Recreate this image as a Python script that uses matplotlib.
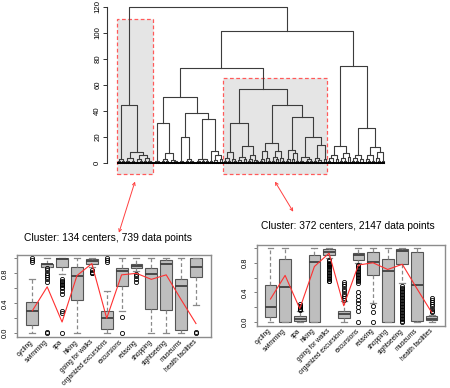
import matplotlib.pyplot as plt
from matplotlib.patches import Rectangle, ConnectionPatch

plt.rcParams['font.family'] = ['Liberation Sans', 'DejaVu Sans']

# ---------------- dendrogram: node = [height, left, right], 0 = leaf ----------------
A1 = [3, [1.5, 0, 0], [2, 0, 0]]
A2a = [4, [2, 0, [1, 0, 0]], [1.5, 0, 0]]
A2bl = [3, [1, 0, 0], [2, 0, 0]]
A2br = [4, [2, 0, 0], [1.5, 0, [1, 0, 0]]]
A = [44.4, A1, [8.5, A2a, [6.4, A2bl, A2br]]]

E1a = [2, [1, 0, 0], [1.2, 0, 0]]
E1b = [7.7, [3, [1.5, 0, 0], [2, 0, 0]], [2.5, [1.2, 0, 0], [2, 0, [1, 0, 0]]]]
E2al = [2, 0, [1, 0, 0]]
E2ar = [3, [1.5, 0, 0], [2, 0, [1, 0, 0]]]
E2bl = [3.5, [2, [1, 0, 0], 0], [3, [1.5, 0, 0], [2, 0, 0]]]
E2brl = [2, 0, 0]
E2brr = [6, [2.5, 0, [1, 0, 0]], [3, 0, 0]]
E = [50.5, [31, E1a, E1b], [38.8, [20.4, E2al, E2ar], [33.7, E2bl, [9.7, E2brl, E2brr]]]]

F1l = [9, [4, [2, 0, 0], [1.5, 0, 0]], [3, 0, [2, 0, 0]]]
F1r = [13.5, [5, [2.5, 0, [1, 0, 0]], [3, 0, 0]], [6.5, [3, [1.5, 0, 0], 0], [2.5, 0, [2, 0, 0]]]]
F2al = [9.4, [3, [1.5, 0, 0], 0], [4, 0, [2, 0, 0]]]
F2ar = [9.6, [5, [2, 0, 0], [3, 0, 0]], [4, 0, [2, 0, 0]]]
F2bl = [10.5, [3, [1.5, 0, 0], 0], [8, [3, 0, 0], [2, 0, 0]]]
F2brl = [5, [2, 0, [1, 0, 0]], [3, [1.5, 0, 0], [2, 0, 0]]]
F2brr = [13.8, [4, [2, 0, 0], [2.5, 0, [1, 0, 0]]], [3, 0, 0]]
F = [57, [30.6, F1l, F1r], [44.4, [15.8, F2al, F2ar], [35.7, F2bl, [20, F2brl, F2brr]]]]

Dl = [13.5, [6, [4, [2, 0, 0], [1, 0, 0]], [3, 0, 0]], [7.5, [4, [2, 0, 0], [1.5, 0, 0]], [5, 0, 0]]]
Drl = [6, [4, [2, 0, 0], [1.5, 0, 0]], [3, 0, [1, 0, 0]]]
Drr = [12.8, [6, [3, 0, [1.5, 0, 0]], [2, 0, 0]], [8.5, [4, 0, [2, 0, 0]], [2, 0, 0]]]
D = [74.8, Dl, [26.8, Drl, Drr]]

tree = [120, A, [101, [72.8, E, F], D]]
highlight = [A, F]
highlight_top = [110.3, 65.1]
rect_bottom = -8.2

# ---------------- boxplot summaries ----------------
labels = ['cycling', 'swimming', 'spa', 'hiking', 'going for walks', 'organized excursions',
          'excursions', 'relaxing', 'shopping', 'sightseeing', 'museums', 'health facilities']

L_title = 'Cluster: 134 centers, 739 data points'
L_lo = [0.00, 0.88, 0.79, 0.00, 0.88, 0.00, 0.30, 0.83, 0.00, 0.00, 0.00, 0.38]
L_q1 = [0.11, 0.885, 0.885, 0.445, 0.92, 0.06, 0.63, 0.87, 0.33, 0.315, 0.045, 0.75]
L_med = [0.30, 0.92, 0.99, 0.77, 0.96, 0.20, 0.83, 0.90, 0.79, 0.92, 0.63, 0.885]
L_q3 = [0.42, 0.93, 1.00, 0.885, 0.99, 0.30, 0.876, 0.92, 0.876, 0.975, 0.72, 1.00]
L_hi = [0.73, 1.00, 1.00, 1.00, 1.00, 0.57, 1.00, 1.00, 1.00, 1.00, 1.00, 1.00]
L_fliers = [[1.0, 0.98, 0.95],
            [0.87, 0.84, 0.81, 0.78, 0.75, 0.72, 0.69, 0.02, 0.0],
            [0.72, 0.70, 0.68, 0.66, 0.64, 0.62, 0.60, 0.57, 0.53, 0.30, 0.27, 0.0],
            [],
            [0.84, 0.82, 0.81, 0.80],
            [1.0, 0.98, 0.95],
            [0.22, 0.0],
            [0.79, 0.76, 0.72, 0.68],
            [], [], [],
            [0.02, 0.0]]
L_mean = [0.30, 0.62, 0.15, 0.77, 0.93, 0.20, 0.78, 0.80, 0.72, 0.78, 0.45, 0.13]

R_title = 'Cluster: 372 centers, 2147 data points'
R_lo = [0.00, 0.00, 0.00, 0.00, 0.86, 0.00, 0.80, 0.26, 0.00, 0.53, 0.00, 0.00]
R_q1 = [0.063, 0.00, 0.02, 0.00, 0.91, 0.055, 0.84, 0.64, 0.00, 0.78, 0.018, 0.022]
R_med = [0.20, 0.47, 0.045, 0.81, 0.94, 0.11, 0.90, 0.81, 0.69, 0.96, 0.50, 0.045]
R_q3 = [0.506, 0.845, 0.086, 0.91, 0.98, 0.15, 0.93, 0.94, 0.855, 0.99, 0.944, 0.076]
R_hi = [1.00, 1.00, 0.15, 1.00, 1.00, 0.28, 1.00, 1.00, 1.00, 1.00, 1.00, 0.10]
R_fliers = [[], [],
            [0.24, 0.22, 0.21, 0.20, 0.18, 0.17, 0.16],
            [],
            [0.84, 0.82, 0.80, 0.79, 0.78, 0.77, 0.75, 0.74, 0.72, 0.70, 0.68, 0.66,
             0.64, 0.62, 0.60, 0.58, 0.56, 0.55],
            [0.54, 0.51, 0.48, 0.45, 0.42, 0.38, 0.35, 0.32, 0.30],
            [0.77, 0.75, 0.73, 0.71, 0.69, 0.67, 0.65, 0.63, 0.61, 0.59, 0.57, 0.55,
             0.53, 0.40, 0.35, 0.30, 0.25, 0.20, 0.15, 0.0],
            [0.22, 0.14, 0.0],
            [],
            [0.48, 0.46, 0.44, 0.42, 0.40, 0.38, 0.36, 0.34, 0.32, 0.30, 0.28, 0.26,
             0.24, 0.22, 0.20, 0.18, 0.16, 0.14, 0.12, 0.10, 0.08, 0.06, 0.04, 0.02, 0.0],
            [],
            [0.33, 0.30, 0.27, 0.24, 0.21, 0.18, 0.15, 0.13]]
R_mean = [0.31, 0.63, 0.18, 0.75, 0.93, 0.22, 0.77, 0.80, 0.71, 0.78, 0.45, 0.13]

fig = plt.figure(figsize=(4.5, 3.88), dpi=100)

# ---------------- dendrogram ----------------
axd = fig.add_axes([0.2384, 0.5455, 0.6504, 0.4544])
spans = {}


def draw_node(ax, node, nxt):
    if not isinstance(node, list):
        x = nxt[0]
        nxt[0] += 1
        return x, 0, x, x
    h, left, right = node
    xl, hl, first, _ = draw_node(ax, left, nxt)
    xr, hr, _, last = draw_node(ax, right, nxt)
    ax.plot([xl, xl, xr, xr], [hl, h, h, hr], color='#3c3c3c', lw=0.8, zorder=2)
    spans[id(node)] = (first, last)
    return (xl + xr) / 2, h, first, last


counter = [0]
draw_node(axd, tree, counter)
axd.plot([0, counter[0] - 1], [0, 0], color='black', lw=1.4, zorder=3)

for node, top in zip(highlight, highlight_top):
    first, last = spans[id(node)]
    axd.add_patch(Rectangle((first - 0.6, rect_bottom), last - first + 1.2, top - rect_bottom,
                            facecolor='#e5e5e5', edgecolor='#ff5a5a', ls=(0, (3, 2)),
                            lw=0.9, zorder=0))

axd.set_xlim(-5.35, 141)
axd.set_ylim(-10, 125)
for s in ['top', 'right', 'bottom']:
    axd.spines[s].set_visible(False)
axd.spines['left'].set_bounds(0, 120)
axd.spines['left'].set_color('#333333')
axd.spines['left'].set_linewidth(0.8)
axd.set_xticks([])
axd.set_yticks([0, 20, 40, 60, 80, 100, 120])
axd.tick_params(axis='y', labelrotation=90, labelsize=5.6, length=2.9, pad=1.5,
                width=0.7, color='#333333')
for t in axd.get_yticklabels():
    t.set_va('center')

# ---------------- box plot panels ----------------
positions = list(range(1, 13))


def panel(rect, lo, q1, med, q3, hi, fliers, mean, title, xlim, tpos):
    ax = fig.add_axes(rect)
    stats = [dict(whislo=a, q1=b, med=c, q3=d, whishi=e, fliers=f)
             for a, b, c, d, e, f in zip(lo, q1, med, q3, hi, fliers)]
    ax.bxp(stats, positions=positions, widths=0.8, capwidths=0.4, patch_artist=True,
           boxprops=dict(facecolor='#bebebe', edgecolor='#555555', lw=0.8),
           medianprops=dict(color='#404040', lw=1.3),
           whiskerprops=dict(color='#8a8a8a', ls=(0, (3, 2)), lw=0.9),
           capprops=dict(color='#8a8a8a', lw=0.9),
           flierprops=dict(marker='o', markerfacecolor='none', markeredgecolor='black',
                           markersize=3, markeredgewidth=0.6))
    ax.plot(positions, mean, color='#ff3030', lw=0.8, zorder=5)
    ax.set_xlim(*xlim)
    ax.set_ylim(-0.05, 1.045)
    ax.set_yticks([0, 0.2, 0.4, 0.6, 0.8, 1.0], ['0.0', '', '0.4', '', '0.8', ''])
    ax.tick_params(axis='y', labelrotation=90, labelsize=5.4, length=2.4, pad=3.5,
                   width=0.6, color='#666666')
    for t in ax.get_yticklabels():
        t.set_va('center')
    ax.set_xticks(positions)
    ax.set_xticklabels(labels, rotation=45, ha='right', va='center',
                       rotation_mode='anchor', fontsize=4.7)
    ax.tick_params(axis='x', length=0, pad=3)
    for s in ax.spines.values():
        s.set_color('#8c8c8c')
        s.set_linewidth(1.0)
    ax.text(tpos[0], tpos[1], title, transform=ax.transAxes, ha='center', va='center',
            fontsize=7.4)
    return ax


axL = panel([0.0371, 0.1314, 0.4311, 0.2114], L_lo, L_q1, L_med, L_q3, L_hi, L_fliers,
            L_mean, L_title, (-0.05, 12.99), (0.47, 1.211))
axR = panel([0.5704, 0.1606, 0.4184, 0.2088], R_lo, R_q1, R_med, R_q3, R_hi, R_fliers,
            R_mean, R_title, (0.06, 12.91), (0.485, 1.231))

# ---------------- arrows linking clusters to panels ----------------
for node, ax, end in zip(highlight, [axL, axR], [(0.527, 1.272), (0.194, 1.407)]):
    first, last = spans[id(node)]
    arrow = ConnectionPatch(xyA=((first + last) / 2, -14), coordsA=axd.transData,
                            xyB=end, coordsB=ax.transAxes, arrowstyle='<->',
                            color='#ff4040', lw=0.7, mutation_scale=5,
                            shrinkA=0, shrinkB=0)
    fig.add_artist(arrow)

fig.savefig('out.png', dpi=100)
